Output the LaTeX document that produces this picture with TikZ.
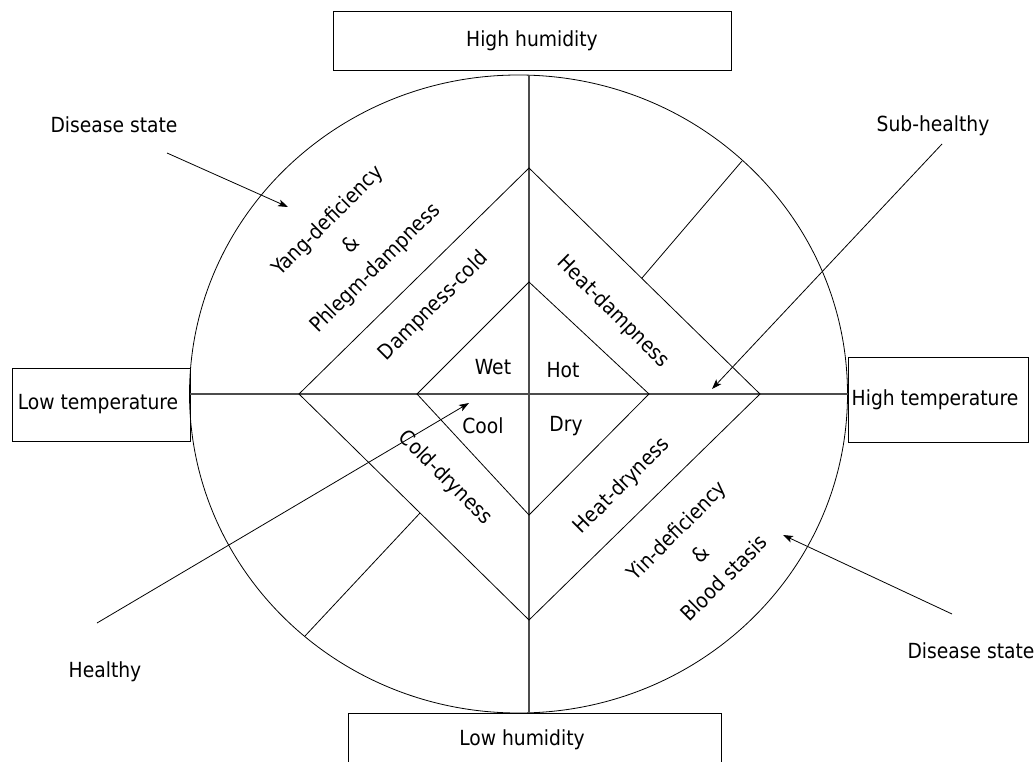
\documentclass[tikz,border=0pt]{standalone}
\usepackage{fontspec}
\setmainfont{DejaVu Sans Condensed}
\usetikzlibrary{arrows.meta}
\begin{document}
\begin{tikzpicture}[x=1pt,y=-1pt,
  every node/.style={font=\fontsize{20.8}{24}\selectfont, inner sep=0pt},
  box/.style={draw, line width=0.9pt},
  thinline/.style={line width=0.8pt},
  axis/.style={line width=1.2pt, draw=black!70},
  arr/.style={line width=0.8pt, -{Stealth[length=10pt,width=7pt,inset=2.5pt]}},
  rot/.style={align=center, font=\fontsize{20.8}{33.5}\selectfont}
]
\useasboundingbox (0,0) rectangle (1035,762);
\clip (0,0) rectangle (1035,762);
\fill[white] (0,0) rectangle (1035,762);

% boxes
\node[box, minimum width=398pt, minimum height=59pt] (tophum) at (532,40.5) {High humidity};
\node[box, minimum width=178pt, minimum height=73pt] (lowtemp) at (101,404.5) {Low temperature\hspace*{6pt}};
\node[box, minimum width=180pt, minimum height=85pt] (hightemp) at (938,399.5) {High temperature\hspace*{6pt}};
\node[box, minimum width=373pt, minimum height=54pt] (lowhum) at (534.5,740) {Low humidity\hspace*{25pt}};

% circle
\draw[thinline] (518.5,394) ellipse [x radius=329pt, y radius=319pt];

% axes
\coordinate (C) at (529,394);
\coordinate (ctop) at (529,75);
\coordinate (cbot) at (529,713);
\draw[axis] (lowtemp.east |- C) -- (hightemp.west |- C);
\draw[axis] (ctop) -- (cbot);

% diamonds
\coordinate (oL) at (299,394);
\coordinate (oT) at (529,168);
\coordinate (oR) at (760,394);
\coordinate (oB) at (529,620);
\draw[thinline] (oL) -- (oT) -- (oR) -- (oB) -- cycle;
\coordinate (iL) at (417,394);
\coordinate (iT) at (529,282);
\coordinate (iR) at (649,394);
\coordinate (iB) at (529,515);
\draw[thinline] (iL) -- (iT) -- (iR) -- (iB) -- cycle;

% radial lines
\coordinate (ne1) at (642,278);
\coordinate (ne2) at (742,161);
\coordinate (sw1) at (420,513);
\coordinate (sw2) at (305,636);
\draw[thinline] (ne1) -- (ne2);
\draw[thinline] (sw1) -- (sw2);

% inner labels
\node (wet) at (493,367) {Wet};
\node (hot) at (563,370) {Hot};
\node (cool) at (483,426) {Cool};
\node (dry) at (566,426) {Dry};

% rotated labels
\node[rotate=45] (dc) at (434,306) {Dampness-cold};
\node[rotate=-45] (hd) at (613,312) {Heat-dampness};
\node[rotate=-45] (cd) at (445,478) {Cold-dryness};
\node[rotate=45] (hdry) at (622,486) {Heat-dryness};
\node[rot, rotate=45] (yang) at (352,245) {Yang-deficiency\\\&\\Phlegm-dampness};
\node[rot, rotate=45] (yin) at (700,554) {Yin-deficiency\\\&\\Blood stasis};

% outer labels
\node (ds1) at (114,125) {Disease state};
\node (sub) at (933,126) {Sub-healthy};
\node (healthy) at (105,672) {Healthy};
\node (ds2) at (971,651) {Disease state};

% arrows
\coordinate (a1s) at (167,153);
\coordinate (a1e) at (288,207);
\coordinate (a2s) at (942,144);
\coordinate (a2e) at (712,389);
\coordinate (a3s) at (97,623);
\coordinate (a3e) at (469,403);
\coordinate (a4s) at (952,614);
\coordinate (a4e) at (783,535);
\draw[arr] (a1s) -- (a1e);
\draw[arr] (a2s) -- (a2e);
\draw[arr] (a3s) -- (a3e);
\draw[arr] (a4s) -- (a4e);
\end{tikzpicture}
\end{document}
